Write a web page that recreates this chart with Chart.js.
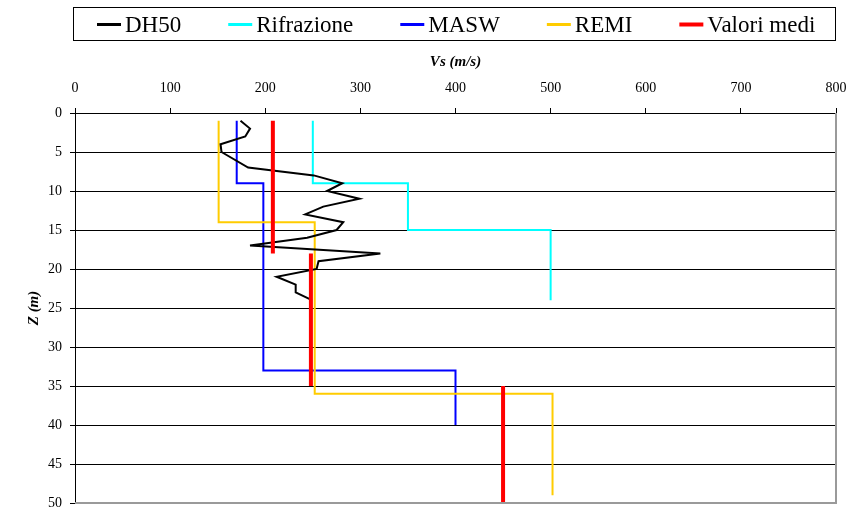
<!DOCTYPE html>
<html><head><meta charset="utf-8">
<script src="https://cdn.jsdelivr.net/npm/chart.js@4/dist/chart.umd.min.js"></script>
<style>html,body{margin:0;padding:0;background:#fff}#wrap{width:850px;height:510px}</style>
</head><body><div id="wrap"><canvas id="c" width="850" height="510"></canvas></div>
<script>
// ---- data ----
const seriesNames = ['DH50', 'Rifrazione', 'MASW', 'REMI', 'Valori medi'];

const dh50Z  = [1, 2, 3, 4, 5, 7, 8, 9, 10, 11, 12, 13, 14, 15, 16, 17, 18, 19, 20, 21, 22, 23, 24];
const dh50Vs = [174, 184, 179, 153, 154, 182, 251, 281, 265, 299, 261, 242, 282, 275, 244, 184, 321, 256, 254, 212, 232, 232, 249];

const rifrZ  = [1, 9, 9, 15, 15, 24];
const rifrVs = [250, 250, 350, 350, 500, 500];

const maswZ  = [1, 9, 9, 33, 33, 40];
const maswVs = [170, 170, 198, 198, 400, 400];

const remiZ  = [1, 14, 14, 36, 36, 49];
const remiVs = [151, 151, 252, 252, 502, 502];

// null = break between layer segments
const mediZ  = [1, 18, null, 18, 35, null, 35, 50];
const mediVs = [208, 208, null, 248, 248, null, 450, 450];

const xTickRange = [0, 800, 100];   // min, max, step (Vs)
const yTickRange = [0, 50, 5];      // min, max, step (Z)

// ---- build ----
const pts = (xs, ys) => xs.map((v, i) => ({ x: v, y: ys[i] }));
const SERIF = "'Liberation Serif', 'Times New Roman', serif";

const datasets = [
  { label: seriesNames[0], data: pts(dh50Vs, dh50Z),  borderColor: '#000000', borderWidth: 2, order: 1 },
  { label: seriesNames[1], data: pts(rifrVs, rifrZ),  borderColor: '#00FFFF', borderWidth: 2, order: 4 },
  { label: seriesNames[2], data: pts(maswVs, maswZ),  borderColor: '#0000FF', borderWidth: 2, order: 3 },
  { label: seriesNames[3], data: pts(remiVs, remiZ),  borderColor: '#FFCC00', borderWidth: 2, order: 2 },
  { label: seriesNames[4], data: pts(mediVs, mediZ),  borderColor: '#FF0000', borderWidth: 4, order: 0 }
].map(d => Object.assign(d, { showLine: true, pointRadius: 0, pointHoverRadius: 0, tension: 0, spanGaps: false, fill: false, borderCapStyle: 'butt', borderJoinStyle: 'miter' }));

const boxLegend = {
  id: 'boxLegend',
  afterDraw(chart) {
    const ctx = chart.ctx;
    ctx.save();
    ctx.strokeStyle = '#000'; ctx.lineWidth = 1;
    ctx.strokeRect(73.5, 7.5, 762, 33);
    ctx.font = '23px ' + SERIF;
    ctx.textBaseline = 'alphabetic';
    let x = 97;
    chart.data.datasets.forEach(ds => {
      ctx.strokeStyle = ds.borderColor;
      ctx.lineWidth = ds.borderWidth > 2 ? 4 : 3;
      ctx.beginPath(); ctx.moveTo(x, 24.5); ctx.lineTo(x + 24, 24.5); ctx.stroke();
      ctx.fillStyle = '#000';
      ctx.fillText(ds.label, x + 28, 32);
      x += 28 + ctx.measureText(ds.label).width + 47;
    });
    ctx.restore();
  }
};

const plotBorder = {
  id: 'plotBorder',
  afterDraw(chart) {
    const a = chart.chartArea, ctx = chart.ctx;
    ctx.save();
    ctx.strokeStyle = '#9a9a9a'; ctx.lineWidth = 2;
    ctx.beginPath();
    ctx.moveTo(a.right, a.top); ctx.lineTo(a.right, a.bottom + 0.5);
    ctx.moveTo(a.left, a.bottom); ctx.lineTo(a.right + 1, a.bottom);
    ctx.stroke();
    ctx.restore();
  }
};

new Chart(document.getElementById('c'), {
  type: 'scatter',
  data: { datasets },
  plugins: [boxLegend, plotBorder],
  options: {
    responsive: false,
    animation: false,
    layout: { padding: { top: 0, left: 0, right: 14, bottom: 7 } },
    plugins: { legend: { display: false }, tooltip: { enabled: false } },
    scales: {
      x: {
        type: 'linear', position: 'top',
        min: xTickRange[0], max: xTickRange[1],
        ticks: { stepSize: xTickRange[2], color: '#000', padding: 11, maxRotation: 0, font: { family: SERIF, size: 14 } },
        grid: { drawOnChartArea: false, drawTicks: true, tickLength: 5, tickColor: '#000' },
        border: { display: true, color: '#000', width: 1 },
        title: { display: true, text: 'Vs (m/s)', color: '#000', padding: { top: 53, bottom: 0 }, font: { family: SERIF, size: 15, weight: 'bold', style: 'italic' } },
        afterFit(s) { s.height = 113; s.paddingLeft = 0; s.paddingRight = 0; }
      },
      y: {
        type: 'linear', reverse: true,
        min: yTickRange[0], max: yTickRange[1],
        ticks: { stepSize: yTickRange[2], color: '#000', padding: 8, font: { family: SERIF, size: 14 } },
        grid: { color: '#000', lineWidth: 1, drawTicks: true, tickLength: 5, tickColor: '#000' },
        border: { display: true, color: '#000', width: 1 },
        title: { display: true, text: 'Z (m)', color: '#000', padding: { top: 25, bottom: 0 }, font: { family: SERIF, size: 15, weight: 'bold', style: 'italic' } },
        afterFit(s) { s.width = 75; s.paddingTop = 0; s.paddingBottom = 0; }
      }
    }
  }
});
</script>
</body></html>
